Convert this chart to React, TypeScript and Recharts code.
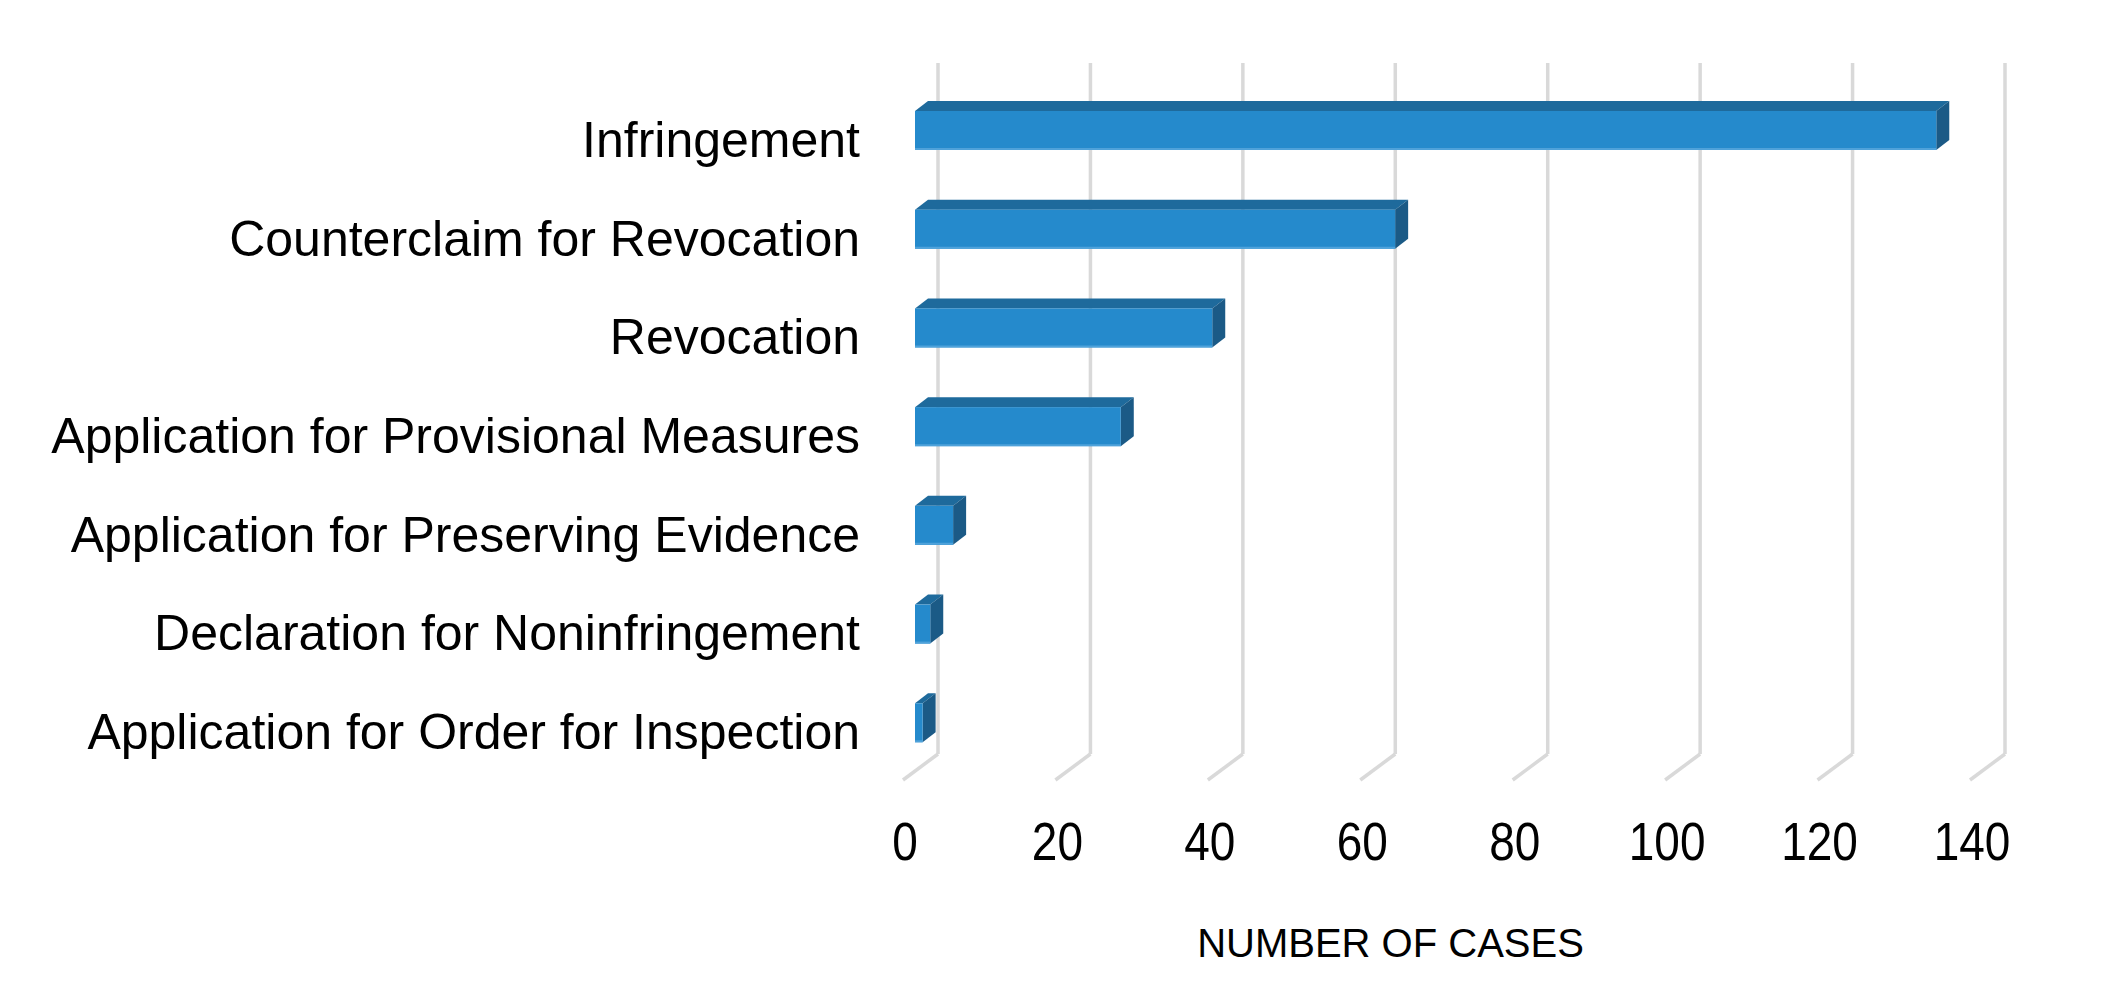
import { Bar, BarChart, CartesianGrid, XAxis, YAxis } from "recharts"

const categories = [
  "Infringement",
  "Counterclaim for Revocation",
  "Revocation",
  "Application for Provisional Measures",
  "Application for Preserving Evidence",
  "Declaration for Noninfringement",
  "Application for Order for Inspection",
]
const cases = [134, 63, 39, 27, 5, 2, 1]
const xTicks = [0, 20, 40, 60, 80, 100, 120, 140]

const data = categories.map((name, i) => ({ name, cases: cases[i] }))

// 3d depth offsets
const DX = 13
const DY = -10
const WALL_DX = 23
const WALL_DY = -18
const FLOOR_DX = -12
const FLOOR_DY = 8

const font = '"Liberation Sans", Arial, sans-serif'

function Box(props: any) {
  const { x, y, width, height } = props
  const w = Math.max(width, 0)
  return (
    <g>
      <polygon
        points={`${x},${y} ${x + DX},${y + DY} ${x + w + DX},${y + DY} ${x + w},${y}`}
        fill="#1e6a9c"
      />
      <polygon
        points={`${x + w},${y} ${x + w + DX},${y + DY} ${x + w + DX},${y + height + DY} ${x + w},${y + height}`}
        fill="#1b5a86"
      />
      <rect x={x} y={y} width={w} height={height} fill="#258acc" />
      <line x1={x} x2={x + w} y1={y + height - 1} y2={y + height - 1} stroke="#4fa2da" strokeWidth={2} />
    </g>
  )
}

function WallLine(props: any) {
  const { x1, y1, x2, y2 } = props
  return (
    <line
      x1={x1 + WALL_DX}
      x2={x2 + WALL_DX}
      y1={y1 + WALL_DY}
      y2={y2 + WALL_DY}
      stroke="#d9d9d9"
      strokeWidth={3.5}
    />
  )
}

function XTick(props: any) {
  const { x, y, payload } = props
  return (
    <g>
      <line
        x1={x + WALL_DX}
        y1={y + WALL_DY}
        x2={x + FLOOR_DX}
        y2={y + FLOOR_DY}
        stroke="#d9d9d9"
        strokeWidth={3.5}
      />
      <text
        transform={`translate(${x - 10},${y + 88}) scale(1,1.18)`}
        x={0}
        y={0}
        textAnchor="middle"
        fontSize={46}
        fontFamily={font}
        fill="#000"
      >
        {payload.value}
      </text>
    </g>
  )
}

function YTick(props: any) {
  const { x, y, payload } = props
  return (
    <text x={x - 55} y={y + 26.5} textAnchor="end" fontSize={50} fontFamily={font} fill="#000">
      {payload.value}
    </text>
  )
}

function AxisTitle(props: any) {
  const { viewBox } = props
  return (
    <text
      x={viewBox.x + viewBox.width / 2 - 58}
      y={957}
      textAnchor="middle"
      fontSize={40}
      fontFamily={font}
      fill="#000"
    >
      NUMBER OF CASES
    </text>
  )
}

export default function App() {
  return (
    <div style={{ position: "absolute", left: 0, top: 0, background: "#fff" }}>
      <BarChart
        width={2121}
        height={993}
        data={data}
        layout="vertical"
        margin={{ top: 81, right: 139, bottom: 0, left: 0 }}
      >
        <CartesianGrid horizontal={false} vertical={(p: any) => <WallLine key={p.key} {...p} />} />
        <XAxis
          type="number"
          domain={[0, 140]}
          ticks={xTicks}
          axisLine={false}
          tickLine={false}
          tickSize={0}
          tickMargin={0}
          height={221}
          interval={0}
          tick={<XTick />}
          label={{ content: (p: any) => <AxisTitle {...p} /> }}
        />
        <YAxis
          type="category"
          dataKey="name"
          width={915}
          axisLine={false}
          tickLine={false}
          tickSize={0}
          tickMargin={0}
          interval={0}
          tick={<YTick />}
        />
        <Bar dataKey="cases" barSize={39} shape={<Box />} isAnimationActive={false} />
      </BarChart>
    </div>
  )
}
